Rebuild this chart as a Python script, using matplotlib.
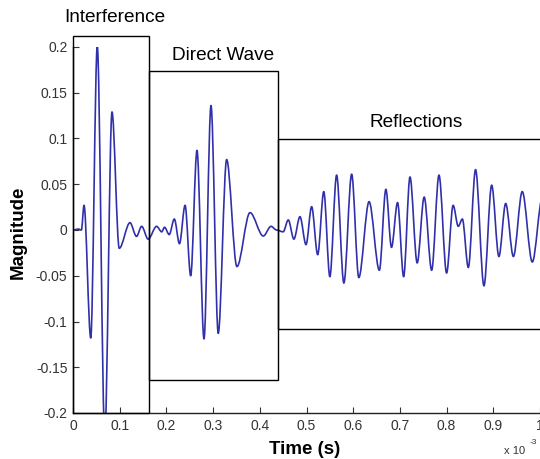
import matplotlib
matplotlib.use("Agg")
import matplotlib.pyplot as plt
from matplotlib.patches import Rectangle, PathPatch
from matplotlib.path import Path
from matplotlib.ticker import FuncFormatter

plt.rcParams["font.family"] = ["Liberation Sans", "DejaVu Sans"]

# Received signal: turning points of the recorded waveform (time in ms)
time_ms = [0.000, 0.012, 0.018, 0.0236, 0.038, 0.052, 0.068, 0.0835, 0.099,
           0.122, 0.136, 0.147, 0.161, 0.179, 0.190, 0.196, 0.206, 0.217,
           0.228, 0.240, 0.252, 0.2655, 0.2805, 0.2955, 0.311, 0.329, 0.351,
           0.379, 0.4075, 0.424, 0.436, 0.450, 0.461, 0.473,
           0.486, 0.499, 0.511, 0.524, 0.537, 0.550, 0.5645, 0.580, 0.5967,
           0.612, 0.634, 0.656, 0.670, 0.682, 0.695, 0.708,
           0.7216, 0.737, 0.752, 0.768, 0.7837, 0.800, 0.814, 0.825, 0.8337,
           0.8465, 0.862, 0.880, 0.8965, 0.912, 0.9265, 0.943, 0.962, 0.9835,
           1.005]
magnitude = [0.000, 0.001, 0.000, 0.027, -0.118, 0.201, -0.225, 0.129, -0.020,
             0.008, -0.007, 0.004, -0.010, 0.004, -0.002, 0.003, -0.005, 0.012,
             -0.015, 0.027, -0.050, 0.087, -0.119, 0.136, -0.113, 0.077, -0.040,
             0.019, -0.0066, 0.004, 0.000, -0.002, 0.011, -0.010,
             0.0146, -0.016, 0.0255, -0.027, 0.042, -0.051, 0.060, -0.058, 0.061,
             -0.052, 0.031, -0.044, 0.0445, -0.019, 0.030, -0.051,
             0.058, -0.036, 0.036, -0.044, 0.060, -0.047, 0.027, 0.004, 0.012,
             -0.041, 0.066, -0.061, 0.049, -0.029, 0.029, -0.029, 0.042, -0.035,
             0.035]

# Signal segments: (label, start ms, end ms, lower, upper)
seg_labels = ["Interference", "Direct Wave", "Reflections"]
seg_start = [0.0, 0.163, 0.439]
seg_end = [0.163, 0.439, 1.10]
seg_low = [-0.2, -0.164, -0.108]
seg_high = [0.212, 0.174, 0.0995]
seg_label_x = [0.09, 0.321, 0.734]
seg_label_y = [0.232, 0.191, 0.117]

x_ticks = [0, 0.1, 0.2, 0.3, 0.4, 0.5, 0.6, 0.7, 0.8, 0.9, 1.0]
y_ticks = [-0.2, -0.15, -0.1, -0.05, 0, 0.05, 0.1, 0.15, 0.2]


def smooth_wave_path(xs, ys):
    """Cubic Bezier path through turning points with flat tangents at each."""
    verts = [(xs[0], ys[0])]
    codes = [Path.MOVETO]
    for x0, y0, x1, y1 in zip(xs[:-1], ys[:-1], xs[1:], ys[1:]):
        dx = (x1 - x0) / 3.0
        verts += [(x0 + dx, y0), (x1 - dx, y1), (x1, y1)]
        codes += [Path.CURVE4] * 3
    return Path(verts, codes)


fig = plt.figure(figsize=(5.4, 4.59), dpi=100)
ax = fig.add_axes([73 / 540, 46 / 459, 1 - 73 / 540, 366 / 459])

ax.add_patch(PathPatch(smooth_wave_path(time_ms, magnitude), fill=False,
                       edgecolor="#3030aa", lw=1.2, joinstyle="round",
                       zorder=2))

for lab, x0, x1, lo, hi, lx, ly in zip(seg_labels, seg_start, seg_end, seg_low,
                                       seg_high, seg_label_x, seg_label_y):
    ax.add_patch(Rectangle((x0, lo), x1 - x0, hi - lo, fill=False,
                           edgecolor="black", lw=1.0, clip_on=False, zorder=3))
    ax.text(lx, ly, lab, ha="center", va="center", fontsize=13.7,
            color="black", clip_on=False)

ax.set_xlim(0, 1.0)
ax.set_ylim(-0.2, 0.2)
ax.set_xticks(x_ticks)
ax.set_yticks(y_ticks)
fmt = FuncFormatter(lambda v, p: ("%g" % round(v, 3)).replace("\u2212", "-"))
ax.xaxis.set_major_formatter(fmt)
ax.yaxis.set_major_formatter(fmt)
ax.tick_params(direction="in", length=4, width=0.8, color="#333333",
               labelcolor="#333333", labelsize=10, pad=4)

for side in ("top", "right"):
    ax.spines[side].set_visible(False)
for side in ("left", "bottom"):
    ax.spines[side].set_color("#222222")
    ax.spines[side].set_linewidth(1.0)

fig.text(305 / 540, 1 - 454 / 459, "Time (s)", ha="center", va="baseline",
         fontsize=13.5, fontweight="bold")
fig.text(18 / 540, 1 - 232 / 459, "Magnitude", ha="center", va="center",
         rotation=90, fontsize=13.5, fontweight="bold")
fig.text(504 / 540, 1 - 451 / 459, "x 10", ha="left", va="center",
         fontsize=8, color="#333333")
fig.text(530 / 540, 1 - 443 / 459, "-3", ha="left", va="center",
         fontsize=6, color="#333333")

fig.savefig("out.png", dpi=100)
